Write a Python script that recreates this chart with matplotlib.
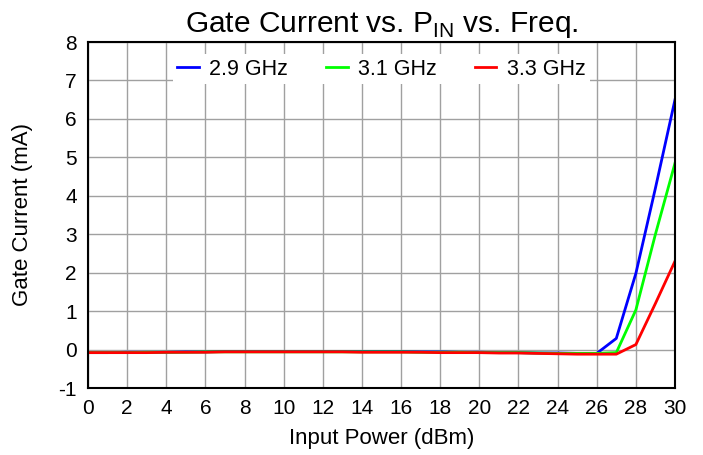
import numpy as np
import matplotlib
matplotlib.use("Agg")
import matplotlib.pyplot as plt

plt.rcParams['font.family'] = ['Liberation Sans', 'DejaVu Sans']
plt.rcParams['mathtext.fontset'] = 'custom'
plt.rcParams['mathtext.rm'] = 'Liberation Sans'
plt.rcParams['axes.unicode_minus'] = False

# input power (dBm)
pin = list(range(0, 31))

# gate current (mA)
i_29 = [-0.08, -0.08, -0.07, -0.07, -0.07, -0.06, -0.06, -0.05, -0.05, -0.05,
        -0.05, -0.05, -0.05, -0.05, -0.05, -0.05, -0.05, -0.06, -0.06, -0.07,
        -0.07, -0.08, -0.08, -0.09, -0.09, -0.10, -0.10, 0.29, 1.98, 4.2, 6.5]
i_31 = [-0.08, -0.08, -0.08, -0.07, -0.07, -0.07, -0.06, -0.06, -0.06, -0.06,
        -0.06, -0.06, -0.06, -0.06, -0.06, -0.06, -0.06, -0.07, -0.07, -0.07,
        -0.08, -0.08, -0.08, -0.09, -0.10, -0.10, -0.10, -0.08, 1.03, 3.0, 4.85]
i_33 = [-0.08, -0.08, -0.08, -0.08, -0.07, -0.07, -0.07, -0.06, -0.06, -0.06,
        -0.06, -0.06, -0.06, -0.06, -0.07, -0.07, -0.07, -0.07, -0.08, -0.08,
        -0.08, -0.09, -0.09, -0.10, -0.11, -0.12, -0.12, -0.12, 0.13, 1.2, 2.3]

series = [("2.9 GHz", i_29, "#0000ff"),
          ("3.1 GHz", i_31, "#00ff00"),
          ("3.3 GHz", i_33, "#ff0000")]

fig = plt.figure(figsize=(7.03, 4.55), dpi=100)
ax = fig.add_axes([88 / 703, 1 - 388 / 455, (675 - 88) / 703, (388 - 42) / 455])

for label, vals, col in series:
    ax.plot(pin, vals, color=col, lw=2, label=label)

ax.set_xlim(0, 30)
ax.set_ylim(-1, 8)
ax.set_xticks(np.arange(0, 31, 2))
ax.set_yticks(np.arange(-1, 9, 1))
ax.grid(True, color="#a0a0a0", lw=1)
ax.set_axisbelow(True)
ax.tick_params(length=0, labelsize=15, pad=8)
for s in ax.spines.values():
    s.set_color("black")
    s.set_linewidth(1.5)

ax.set_xlabel("Input Power (dBm)", fontsize=16, labelpad=7)
ax.set_ylabel("Gate Current (mA)", fontsize=16, labelpad=18)
ax.set_title(r"Gate Current vs. P$_{\mathrm{IN}}$ vs. Freq.", fontsize=21.5, pad=7)

leg = ax.legend(loc="upper center", bbox_to_anchor=(0.5, 0.995), ncol=3,
                fontsize=15.5, frameon=True, fancybox=False, handlelength=1.0,
                columnspacing=1.75, handletextpad=0.5, borderpad=0.2)
leg.get_frame().set_edgecolor("none")
leg.get_frame().set_facecolor("white")
leg.get_frame().set_alpha(1)

fig.savefig("out.png", dpi=100)
